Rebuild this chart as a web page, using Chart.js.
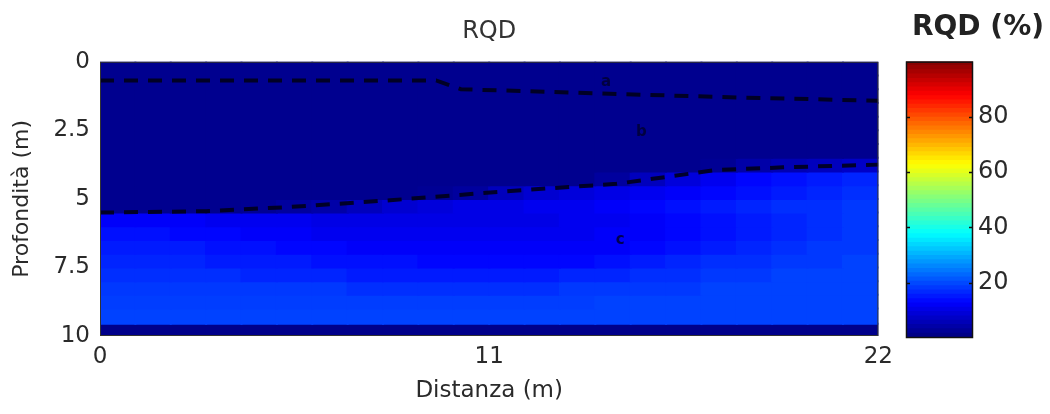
<!DOCTYPE html>
<html>
<head>
<meta charset="utf-8">
<title>RQD</title>
<script src="https://cdn.jsdelivr.net/npm/chart.js@4.4.1/dist/chart.umd.min.js"></script>
<style>
    html, body { margin: 0; padding: 0; background: #fff; }
    #wrap { position: relative; width: 1050px; height: 414px; }
    #main { position: absolute; left: 0; top: 0; width: 900px; height: 414px; }
    #bar { position: absolute; left: 895px; top: 0; width: 155px; height: 414px; }
</style>
</head>
<body>
<div id="wrap">
    <canvas id="main" width="900" height="414"></canvas>
    <canvas id="bar" width="155" height="414"></canvas>
</div>
<script>
// griglia: centri delle colonne (distanza, m) e bordi delle righe (profondità, m)
const distCenters = [0.5, 1.5, 2.5, 3.5, 4.5, 5.5, 6.5, 7.5, 8.5, 9.5, 10.5,
    11.5, 12.5, 13.5, 14.5, 15.5, 16.5, 17.5, 18.5, 19.5, 20.5, 21.5];
const depthEdges = [0, 0.5, 1, 1.5, 2, 2.5, 3, 3.5, 4, 4.5, 5,
    5.5, 6, 6.5, 7, 7.5, 8, 8.5, 9, 9.55, 10];

// valori RQD (%), una riga per fascia di profondità
const rqdRows = [
    [1.5, 1.5, 1.5, 1.5, 1.5, 1.5, 1.5, 1.5, 1.5, 1.5, 1.5, 1.5, 1.5, 1.5, 1.5, 1.5, 1.5, 1.5, 1.5, 1.5, 1.5, 1.5],
    [1.5, 1.5, 1.5, 1.5, 1.5, 1.5, 1.5, 1.5, 1.5, 1.5, 1.5, 1.5, 1.5, 1.5, 1.5, 1.5, 1.5, 1.5, 1.5, 1.5, 1.5, 1.5],
    [1.5, 1.5, 1.5, 1.5, 1.5, 1.5, 1.5, 1.5, 1.5, 1.5, 1.5, 1.5, 1.5, 1.5, 1.5, 1.5, 1.5, 1.5, 1.5, 1.5, 1.5, 1.5],
    [1.5, 1.5, 1.5, 1.5, 1.5, 1.5, 1.5, 1.5, 1.5, 1.5, 1.5, 1.5, 1.5, 1.5, 1.5, 1.5, 1.5, 1.5, 1.5, 1.5, 1.5, 1.5],
    [1.5, 1.5, 1.5, 1.5, 1.5, 1.5, 1.5, 1.5, 1.5, 1.5, 1.5, 1.5, 1.5, 1.5, 1.5, 1.5, 1.5, 1.5, 1.5, 1.5, 1.5, 1.5],
    [1.5, 1.5, 1.5, 1.5, 1.5, 1.5, 1.5, 1.5, 1.5, 1.5, 1.5, 1.5, 1.5, 1.5, 1.5, 1.5, 1.5, 1.5, 1.5, 1.5, 1.5, 1.5],
    [1.5, 1.5, 1.5, 1.5, 1.5, 1.5, 1.5, 1.5, 1.5, 1.5, 1.5, 1.5, 1.5, 1.5, 1.5, 1.5, 1.5, 1.5, 1.5, 1.5, 1.5, 1.5],
    [1.5, 1.5, 1.5, 1.5, 1.5, 1.5, 1.5, 1.5, 1.5, 1.5, 1.5, 1.5, 1.5, 1.5, 1.5, 1.5, 1.5, 2, 4, 5, 6, 7],
    [1.5, 1.5, 1.5, 1.5, 1.5, 1.5, 1.5, 1.5, 1.5, 1.5, 1.5, 1.5, 1.5, 1.5, 3, 6, 9, 11, 13, 14, 15, 16],
    [1.5, 1.5, 1.5, 1.5, 1.5, 1.5, 1.5, 1.5, 1.5, 2, 3, 6, 8, 9, 10, 11, 12, 13, 14, 15, 16, 17],
    [1.5, 1.5, 1.5, 1.5, 2, 3, 4, 6, 8, 9, 10, 10, 11, 11, 12, 13, 14, 15, 16, 17, 17, 18],
    [12, 12, 12, 11, 11, 11, 10, 10, 10, 10, 10, 10, 10, 11, 11, 12, 13, 14, 15, 16, 17, 18],
    [14, 14, 13, 13, 12, 12, 11, 11, 11, 11, 11, 11, 11, 11, 12, 12, 13, 14, 15, 16, 17, 18],
    [15, 15, 15, 14, 14, 13, 13, 12, 12, 12, 12, 12, 12, 12, 12, 13, 14, 15, 16, 17, 18, 18],
    [16, 16, 16, 15, 15, 15, 14, 14, 14, 13, 13, 13, 13, 13, 14, 15, 16, 17, 17, 18, 18, 19],
    [17, 17, 17, 17, 16, 16, 16, 15, 15, 15, 15, 15, 15, 16, 16, 17, 17, 18, 18, 19, 19, 19],
    [18, 18, 18, 18, 18, 18, 18, 17, 17, 17, 17, 17, 17, 18, 18, 18, 18, 19, 19, 19, 19, 19],
    [18.5, 18.5, 18.5, 18.5, 18.5, 18.5, 18.5, 18.5, 18.5, 18.5, 18.5, 18.5, 18.5, 18.5, 19, 19, 19, 19, 19, 19, 19, 19],
    [19, 19, 19, 19, 19, 19, 19, 19, 19, 19, 19, 19, 19, 19, 19, 19, 19, 19, 19, 19, 19, 19],
    [1, 1, 1, 1, 1, 1, 1, 1, 1, 1, 1, 1, 1, 1, 1, 1, 1, 1, 1, 1, 1, 1]
];

// limiti tratteggiati tra gli strati
const upperLineX = [0, 9.5, 10.2, 14, 18, 22];
const upperLineY = [0.68, 0.68, 1.0, 1.15, 1.3, 1.42];
const lowerLineX = [0, 3, 5.3, 8.2, 11.7, 14.6, 17.4, 19.3, 22];
const lowerLineY = [5.5, 5.45, 5.3, 5.05, 4.7, 4.45, 3.95, 3.85, 3.75];

// sigle nel grafico
const markText = ['a', 'b', 'c'];
const markX = [14.3, 15.3, 14.7];
const markY = [0.73, 2.56, 6.5];

// assi
const xTicks = [0, 11, 22];
const yTicks = [0, 2.5, 5, 7.5, 10];
const cbTicks = [20, 40, 60, 80];
const cbRange = [0, 100];

Chart.defaults.font.family = "'DejaVu Sans', sans-serif";
Chart.defaults.color = '#2a2a2a';

// colormap jet (come MATLAB)
function jetColor(v) {
    const t = (v - cbRange[0]) / (cbRange[1] - cbRange[0]);
    const c = x => Math.round(255 * Math.max(0, Math.min(1, x)));
    const r = c(1.5 - Math.abs(4 * t - 3));
    const g = c(1.5 - Math.abs(4 * t - 2));
    const b = c(1.5 - Math.abs(4 * t - 1));
    return `rgb(${r}, ${g}, ${b})`;
}

// cornice del grafico
const framePlugin = {
    id: 'frame',
    afterDraw(chart, args, opts) {
        const {ctx, chartArea: a} = chart;
        ctx.save();
        ctx.strokeStyle = opts.color || '#333';
        ctx.lineWidth = opts.width || 1;
        ctx.strokeRect(a.left + 0.5, a.top + 0.5, a.right - a.left - 1, a.bottom - a.top - 1);
        if (opts.ticks) {
            const y = chart.scales.y;
            opts.ticks.forEach(v => {
                const py = Math.round(y.getPixelForValue(v)) + 0.5;
                ctx.beginPath();
                ctx.moveTo(a.left, py); ctx.lineTo(a.left + 4, py);
                ctx.moveTo(a.right, py); ctx.lineTo(a.right - 4, py);
                ctx.stroke();
            });
        }
        ctx.restore();
    }
};

// sigle a, b, c
const marksPlugin = {
    id: 'marks',
    afterDatasetsDraw(chart) {
        const {ctx, scales: {x, y}} = chart;
        ctx.save();
        ctx.fillStyle = 'rgba(0, 0, 50, 0.85)';
        ctx.font = "bold 15px 'DejaVu Sans'";
        ctx.textAlign = 'center';
        ctx.textBaseline = 'middle';
        markText.forEach((t, i) => {
            ctx.fillText(t, x.getPixelForValue(markX[i]), y.getPixelForValue(markY[i]));
        });
        ctx.restore();
    }
};

function dashedLine(xs, ys) {
    return {
        type: 'line',
        data: xs.map((x, i) => ({x: x, y: ys[i]})),
        borderColor: 'rgba(0, 0, 25, 0.9)',
        borderWidth: 4,
        borderDash: [14, 10],
        pointRadius: 0,
        fill: false,
        tension: 0,
        order: 0
    };
}

function initMainChart() {
    const heatSets = rqdRows.map((row, r) => ({
        type: 'bar',
        data: distCenters.map(x => ({x: x, y: [depthEdges[r], depthEdges[r + 1]]})),
        backgroundColor: row.map(jetColor),
        borderWidth: 0,
        inflateAmount: 1,
        barPercentage: 1,
        categoryPercentage: 1,
        grouped: false,
        order: 1
    }));

    new Chart(document.getElementById('main'), {
        type: 'bar',
        data: {
            datasets: [dashedLine(upperLineX, upperLineY), dashedLine(lowerLineX, lowerLineY), ...heatSets]
        },
        options: {
            responsive: false,
            animation: false,
            events: [],
            layout: { padding: { left: 0, right: 17, top: 0, bottom: 0 } },
            plugins: {
                legend: { display: false },
                tooltip: { enabled: false },
                title: {
                    display: true,
                    text: 'RQD',
                    fullSize: false,
                    color: '#333',
                    font: { size: 24, weight: 'normal' },
                    padding: { top: 17, bottom: 16 }
                },
                frame: { color: '#333', width: 1 }
            },
            scales: {
                x: {
                    type: 'linear',
                    min: 0,
                    max: 22,
                    offset: false,
                    grid: { display: false, drawTicks: false },
                    border: { display: false },
                    afterBuildTicks: s => { s.ticks = xTicks.map(v => ({value: v})); },
                    afterFit: s => { s.height = 78; },
                    ticks: {
                        padding: 7,
                        color: '#2a2a2a',
                        font: { size: 23 },
                        maxRotation: 0,
                        callback: v => String(v)
                    },
                    title: {
                        display: true,
                        text: 'Distanza (m)',
                        color: '#2a2a2a',
                        font: { size: 23 },
                        padding: { top: 0, bottom: 9 }
                    }
                },
                y: {
                    type: 'linear',
                    reverse: true,
                    min: 0,
                    max: 10,
                    grid: { display: false, drawTicks: false },
                    border: { display: false },
                    afterBuildTicks: s => { s.ticks = yTicks.map(v => ({value: v})); },
                    afterFit: s => { s.width = 100; },
                    ticks: {
                        padding: 10,
                        color: '#2a2a2a',
                        font: { size: 23 },
                        callback: v => String(v)
                    },
                    title: {
                        display: true,
                        text: 'Profondità (m)',
                        color: '#2a2a2a',
                        font: { size: 22 },
                        padding: { top: 9, bottom: 0 }
                    }
                }
            }
        },
        plugins: [framePlugin, marksPlugin]
    });
}

function initColorbar() {
    // 64 livelli come la colormap di default
    const levels = 64;
    const step = (cbRange[1] - cbRange[0]) / levels;
    const sets = [];
    for (let i = 0; i < levels; i++) {
        const lo = cbRange[0] + i * step;
        sets.push({
            data: [[lo, lo + step]],
            backgroundColor: jetColor(lo + step / 2),
            borderWidth: 0,
            inflateAmount: 1,
            barPercentage: 1,
            categoryPercentage: 1,
            grouped: false
        });
    }

    new Chart(document.getElementById('bar'), {
        type: 'bar',
        data: { labels: [''], datasets: sets },
        options: {
            responsive: false,
            animation: false,
            events: [],
            layout: { padding: { left: 11, right: 0, top: 0, bottom: 76 } },
            plugins: {
                legend: { display: false },
                tooltip: { enabled: false },
                title: {
                    display: true,
                    text: 'RQD (%)',
                    color: '#222',
                    font: { size: 28, weight: 'bold' },
                    padding: { top: 11, bottom: 17 }
                },
                frame: { color: '#111', width: 1.5, ticks: cbTicks }
            },
            scales: {
                x: { display: false },
                y: {
                    position: 'right',
                    min: cbRange[0],
                    max: cbRange[1],
                    grid: { display: false, drawTicks: false },
                    border: { display: false },
                    afterBuildTicks: s => { s.ticks = cbTicks.map(v => ({value: v})); },
                    afterFit: s => { s.width = 77; },
                    ticks: {
                        padding: 5,
                        color: '#2a2a2a',
                        font: { size: 24 },
                        callback: v => String(v)
                    }
                }
            }
        },
        plugins: [framePlugin]
    });
}

document.addEventListener('DOMContentLoaded', () => {
    initMainChart();
    initColorbar();
});
</script>
</body>
</html>
